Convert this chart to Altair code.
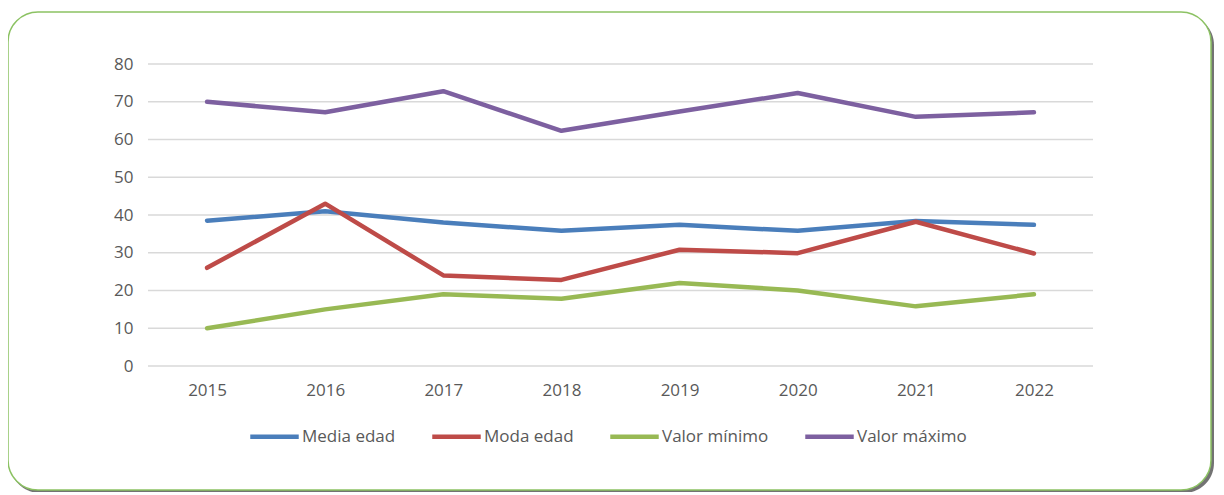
import altair as alt
import pandas as pd

years = ["2015", "2016", "2017", "2018", "2019", "2020", "2021", "2022"]
series_names = ["Media edad", "Moda edad", "Valor mínimo", "Valor máximo"]
media_edad = [38.5, 41.0, 38.0, 35.8, 37.4, 35.8, 38.4, 37.4]
moda_edad = [26.0, 43.0, 24.0, 22.8, 30.8, 29.9, 38.2, 29.8]
valor_minimo = [10.0, 15.0, 19.0, 17.8, 22.0, 20.0, 15.8, 19.0]
valor_maximo = [70.0, 67.2, 72.8, 62.3, 67.4, 72.3, 66.0, 67.2]
y_ticks = [0, 10, 20, 30, 40, 50, 60, 70, 80]
colors = ["#4a7ebb", "#be4b48", "#98b954", "#7d60a0"]

rows = []
for name, vals in zip(series_names, [media_edad, moda_edad, valor_minimo, valor_maximo]):
    for y, v in zip(years, vals):
        rows.append({"Año": y, "Serie": name, "Valor": v})
df = pd.DataFrame(rows)
grid_df = pd.DataFrame({"Valor": y_ticks})

W, H = 945, 302
FONT = "Open Sans"

deco = pd.DataFrame({"k": [0]})
shadow = alt.Chart(deco).mark_rect(
    cornerRadius=30, fill="#5a5a5a", opacity=0.85
).encode(
    x=alt.value(-138), x2=alt.value(1066), y=alt.value(-49), y2=alt.value(429)
)
frame = alt.Chart(deco).mark_rect(
    cornerRadius=30, fill="white", stroke="#8cc263", strokeWidth=1.5
).encode(
    x=alt.value(-140), x2=alt.value(1063), y=alt.value(-52), y2=alt.value(426)
)

yscale = alt.Scale(domain=[0, 80], nice=False)
yaxis = alt.Axis(values=y_ticks, tickCount=9, ticks=False, domain=False,
                 labelOverlap=False, labelPadding=15, grid=False, zindex=1)

grid = alt.Chart(grid_df).mark_rule(color="#d9d9d9", strokeWidth=1.3).encode(
    y=alt.Y("Valor:Q", scale=yscale, title=None, axis=yaxis),
)

lines = alt.Chart(df).mark_line(
    strokeWidth=4.5, strokeJoin="round", strokeCap="round"
).encode(
    x=alt.X("Año:N", sort=years, title=None,
            scale=alt.Scale(type="point", padding=0.5),
            axis=alt.Axis(labelAngle=0, ticks=False, domain=False,
                          labelPadding=16, grid=False, zindex=1)),
    y=alt.Y("Valor:Q", title=None, scale=yscale, axis=yaxis),
    color=alt.Color("Serie:N", sort=series_names,
                    scale=alt.Scale(domain=series_names, range=colors),
                    legend=alt.Legend(title=None, orient="none",
                                      direction="horizontal",
                                      legendX=100, legendY=346,
                                      symbolType="stroke",
                                      symbolSize=2350,
                                      symbolStrokeWidth=4.5,
                                      labelOffset=1,
                                      columnPadding=27, zindex=1)),
    detail="Serie:N",
)

chart = alt.layer(shadow, frame, grid, lines).properties(
    width=W, height=H,
    autosize=alt.AutoSizeParams(type="none"),
    padding={"left": 140, "top": 56, "right": 122, "bottom": 126},
    background="white",
).configure_view(stroke=None).configure_axis(
    labelFont=FONT, labelFontSize=17, labelColor="#595959",
).configure_legend(
    labelFont=FONT, labelFontSize=17, labelColor="#595959",
)

chart.save("out.html", embed_options={"renderer": "svg", "actions": False})
